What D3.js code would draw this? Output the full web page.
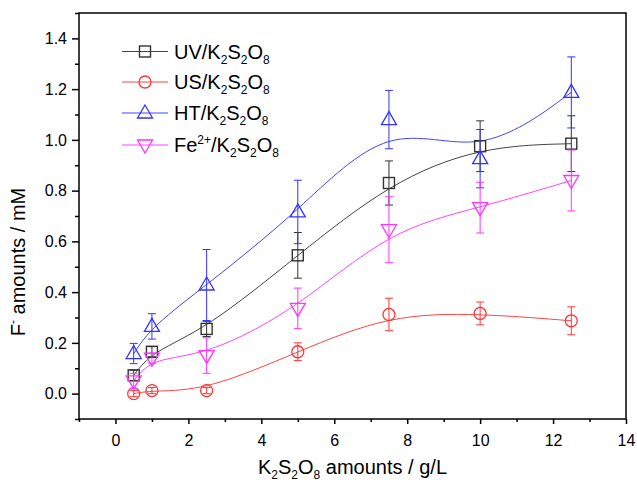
<!DOCTYPE html>
<html lang="en">
<head>
<meta charset="utf-8">
<title>F- amounts vs K2S2O8 amounts</title>
<script src="https://cdn.jsdelivr.net/npm/d3@7"></script>
<style>
  body { margin: 0; background: #fff; }
  text { font-family: Arial, "Liberation Sans", sans-serif; fill: #000; }
</style>
</head>
<body>
<script>
// data
var xVals = [0.5, 1, 2.5, 5, 7.5, 10, 12.5];

var uv    = [0.072, 0.165, 0.255, 0.545, 0.83, 0.975, 0.985];
var uvErr = [0.02, 0.02, 0.03, 0.09, 0.087, 0.10, 0.11];
var us    = [0.0, 0.012, 0.012, 0.165, 0.312, 0.316, 0.287];
var usErr = [0.012, 0.012, 0.012, 0.035, 0.064, 0.045, 0.055];
var ht    = [0.158, 0.265, 0.428, 0.716, 1.08, 0.926, 1.187];
var htErr = [0.04, 0.05, 0.14, 0.125, 0.115, 0.115, 0.14];
var fe    = [0.05, 0.14, 0.15, 0.336, 0.646, 0.733, 0.84];
var feErr = [0.03, 0.02, 0.07, 0.08, 0.13, 0.10, 0.12];

var xMajor = [0, 2, 4, 6, 8, 10, 12, 14];
var xMinor = [-1, 1, 3, 5, 7, 9, 11, 13];
var yMajor = [0.0, 0.2, 0.4, 0.6, 0.8, 1.0, 1.2, 1.4];
var yMinor = [-0.1, 0.1, 0.3, 0.5, 0.7, 0.9, 1.1, 1.3, 1.5];

var series = [
  { name: "UV", ys: uv, err: uvErr, shape: "square",   color: "#333333", line: "#444444" },
  { name: "US", ys: us, err: usErr, shape: "circle",   color: "#ff3333", line: "#ff4444" },
  { name: "HT", ys: ht, err: htErr, shape: "triangle", color: "#3333ff", line: "#4444ff" },
  { name: "Fe", ys: fe, err: feErr, shape: "down",     color: "#ff33ff", line: "#ff44ff" }
];

var w = 637, h = 484;
var pLeft = 79, pRight = 626, pTop = 13, pBottom = 419;

var svg = d3.select("body").append("svg")
  .attr("width", w)
  .attr("height", h);

var x = d3.scaleLinear().domain([-1, 14]).range([pLeft, pRight]);
var y = d3.scaleLinear().domain([-0.1, 1.5]).range([pBottom, pTop]);

// frame
svg.append("rect")
  .attr("x", pLeft).attr("y", pTop)
  .attr("width", pRight - pLeft).attr("height", pBottom - pTop)
  .attr("fill", "none").attr("stroke", "#000").attr("stroke-width", 1.5);

// axes
var xAxis = svg.append("g")
  .attr("transform", "translate(0," + pBottom + ")")
  .call(d3.axisBottom(x).tickValues(xMajor).tickSize(5).tickPadding(11)
    .tickFormat(d3.format("d")));
xAxis.select(".domain").remove();
xAxis.selectAll("line").attr("stroke-width", 1.5);
xAxis.attr("font-size", 16).attr("font-family", null);

var xAxisMinor = svg.append("g")
  .attr("transform", "translate(0," + pBottom + ")")
  .call(d3.axisBottom(x).tickValues(xMinor).tickSize(3).tickFormat(""));
xAxisMinor.select(".domain").remove();
xAxisMinor.selectAll("line").attr("stroke-width", 1.5);

var yAxis = svg.append("g")
  .attr("transform", "translate(" + pLeft + ",0)")
  .call(d3.axisLeft(y).tickValues(yMajor).tickSize(7).tickPadding(5)
    .tickFormat(d3.format(".1f")));
yAxis.select(".domain").remove();
yAxis.selectAll("line").attr("stroke-width", 1.5);
yAxis.attr("font-size", 16).attr("font-family", null);

var yAxisMinor = svg.append("g")
  .attr("transform", "translate(" + pLeft + ",0)")
  .call(d3.axisLeft(y).tickValues(yMinor).tickSize(4).tickFormat(""));
yAxisMinor.select(".domain").remove();
yAxisMinor.selectAll("line").attr("stroke-width", 1.5);

// axis titles
var xt = svg.append("text")
  .attr("x", (pLeft + pRight) / 2).attr("y", 474)
  .attr("text-anchor", "middle")
  .attr("font-size", "20px");
xt.append("tspan").text("K");
xt.append("tspan").attr("dy", 5).attr("font-size", "12px").text("2");
xt.append("tspan").attr("dy", -5).text("S");
xt.append("tspan").attr("dy", 5).attr("font-size", "12px").text("2");
xt.append("tspan").attr("dy", -5).text("O");
xt.append("tspan").attr("dy", 5).attr("font-size", "12px").text("8");
xt.append("tspan").attr("dy", -5).text(" amounts / g/L");

var yt = svg.append("text")
  .attr("transform", "translate(25,262) rotate(-90)")
  .attr("text-anchor", "middle")
  .attr("font-size", "20px");
yt.append("tspan").text("F");
yt.append("tspan").attr("dy", -8).attr("font-size", "12px").text("-");
yt.append("tspan").attr("dy", 8).text(" amounts / mM");

// markers
function drawMarker(g, shape, cx, cy, color) {
  if (shape === "square") {
    g.append("rect").attr("x", cx - 5.5).attr("y", cy - 5.5)
      .attr("width", 11).attr("height", 11)
      .attr("fill", "none").attr("stroke", color).attr("stroke-width", 1.4);
  } else if (shape === "circle") {
    g.append("circle").attr("cx", cx).attr("cy", cy).attr("r", 6)
      .attr("fill", "none").attr("stroke", color).attr("stroke-width", 1.3);
  } else if (shape === "triangle") {
    g.append("path")
      .attr("d", "M" + cx + "," + (cy - 8) + "L" + (cx + 7.5) + "," + (cy + 5) + "L" + (cx - 7.5) + "," + (cy + 5) + "Z")
      .attr("fill", "none").attr("stroke", color).attr("stroke-width", 1.3);
  } else {
    g.append("path")
      .attr("d", "M" + cx + "," + (cy + 8) + "L" + (cx + 7.5) + "," + (cy - 5) + "L" + (cx - 7.5) + "," + (cy - 5) + "Z")
      .attr("fill", "none").attr("stroke", color).attr("stroke-width", 1.3);
  }
}

var line = d3.line()
  .x(function(d) { return x(d[0]); })
  .y(function(d) { return y(d[1]); })
  .curve(d3.curveBasis);

series.forEach(function(s) {
  var pts = xVals.map(function(xv, i) { return [xv, s.ys[i]]; });
  svg.append("path")
    .attr("d", line(pts))
    .attr("fill", "none")
    .attr("stroke", s.line)
    .attr("stroke-width", 1);
});

series.forEach(function(s) {
  var g = svg.append("g");
  xVals.forEach(function(xv, i) {
    var cx = x(xv);
    var y1 = y(s.ys[i] + s.err[i]), y2 = y(s.ys[i] - s.err[i]);
    g.append("line").attr("x1", cx).attr("x2", cx).attr("y1", y1).attr("y2", y2)
      .attr("stroke", s.color).attr("stroke-width", 1);
    g.append("line").attr("x1", cx - 4).attr("x2", cx + 4).attr("y1", y1).attr("y2", y1)
      .attr("stroke", s.color).attr("stroke-width", 1);
    g.append("line").attr("x1", cx - 4).attr("x2", cx + 4).attr("y1", y2).attr("y2", y2)
      .attr("stroke", s.color).attr("stroke-width", 1);
    drawMarker(g, s.shape, cx, y(s.ys[i]), s.color);
  });
});

// legend
var legY = [51.5, 82, 113, 145];
series.forEach(function(s, i) {
  var ly = legY[i];
  svg.append("line").attr("x1", 122).attr("x2", 168).attr("y1", ly).attr("y2", ly)
    .attr("stroke", s.line).attr("stroke-width", 1);
  drawMarker(svg, s.shape, 145, ly, s.color);
  var t = svg.append("text").attr("x", 174).attr("y", ly + 7).attr("font-size", "20px");
  if (s.name === "Fe") {
    t.append("tspan").text("Fe");
    t.append("tspan").attr("dy", -8).attr("font-size", "12px").text("2+");
    t.append("tspan").attr("dy", 8).text("/K");
  } else {
    t.append("tspan").text(s.name + "/K");
  }
  t.append("tspan").attr("dy", 5).attr("font-size", "12px").text("2");
  t.append("tspan").attr("dy", -5).text("S");
  t.append("tspan").attr("dy", 5).attr("font-size", "12px").text("2");
  t.append("tspan").attr("dy", -5).text("O");
  t.append("tspan").attr("dy", 5).attr("font-size", "12px").text("8");
});
</script>
</body>
</html>
